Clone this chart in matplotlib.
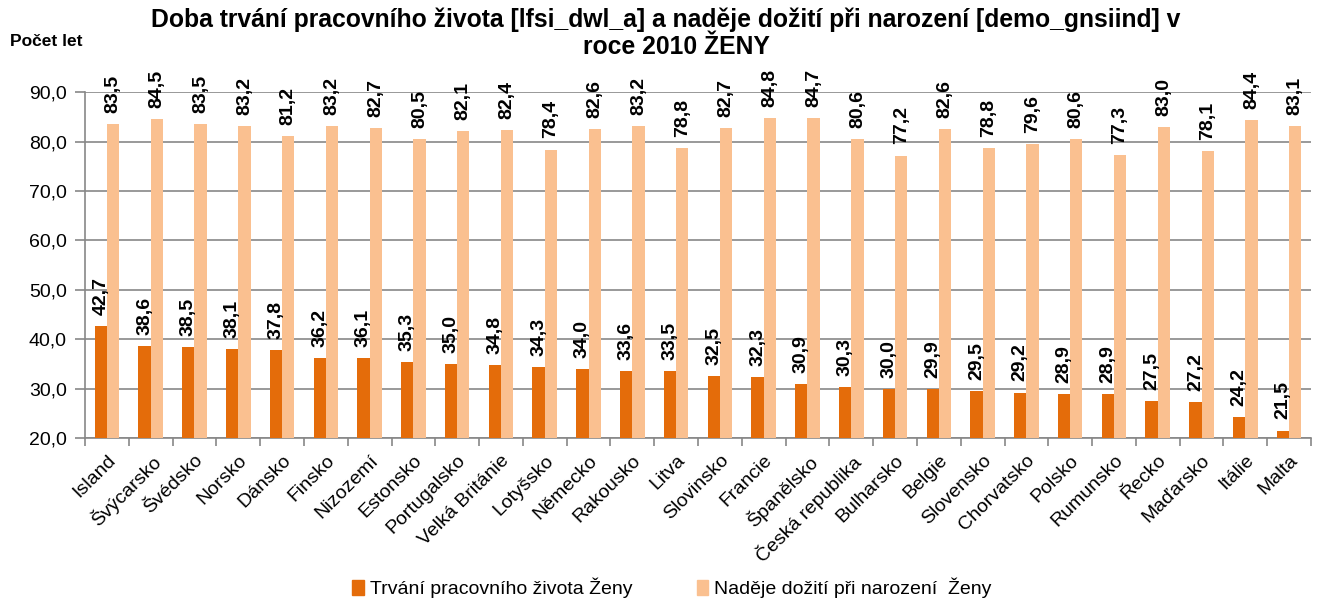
import matplotlib
matplotlib.use("Agg")
import matplotlib.pyplot as plt
import numpy as np
from matplotlib.patches import Patch

plt.rcParams['font.family'] = ['Liberation Sans', 'DejaVu Sans']

categories = ["Island", "Švýcarsko", "Švédsko", "Norsko", "Dánsko", "Finsko", "Nizozemí",
              "Estonsko", "Portugalsko", "Velká Británie", "Lotyšsko", "Německo", "Rakousko",
              "Litva", "Slovinsko", "Francie", "Španělsko", "Česká republika", "Bulharsko",
              "Belgie", "Slovensko", "Chorvatsko", "Polsko", "Rumunsko", "Řecko", "Maďarsko",
              "Itálie", "Malta"]
working_life = [42.7, 38.6, 38.5, 38.1, 37.8, 36.2, 36.1, 35.3, 35.0, 34.8, 34.3, 34.0, 33.6,
                33.5, 32.5, 32.3, 30.9, 30.3, 30.0, 29.9, 29.5, 29.2, 28.9, 28.9, 27.5, 27.2,
                24.2, 21.5]
life_expectancy = [83.5, 84.5, 83.5, 83.2, 81.2, 83.2, 82.7, 80.5, 82.1, 82.4, 78.4, 82.6, 83.2,
                   78.8, 82.7, 84.8, 84.7, 80.6, 77.2, 82.6, 78.8, 79.6, 80.6, 77.3, 83.0, 78.1,
                   84.4, 83.1]
series_names = ["Trvání pracovního života Ženy", "Naděje dožití při narození  Ženy"]
yticks = [20, 30, 40, 50, 60, 70, 80, 90]

dark = "#E46C0A"
light = "#FAC090"
grid_c = "#878787"

fig = plt.figure(figsize=(13.19, 6.02), dpi=100)
ax = fig.add_axes([85/1319, 1-438/602, (1311-85)/1319, (438-92.3)/602])

x = np.arange(len(categories))
w = 0.28
ax.bar(x - w/2, [v - 20 for v in working_life], w, bottom=20, color=dark, zorder=3)
ax.bar(x + w/2, [v - 20 for v in life_expectancy], w, bottom=20, color=light, zorder=3)

def fmt(v):
    return f"{v:.1f}".replace(".", ",")

for xs, vals in ((x - w/2, working_life), (x + w/2, life_expectancy)):
    for xi, v in zip(xs, vals):
        ax.annotate(fmt(v), (xi, v), xytext=(0, 8), textcoords="offset points",
                    rotation=90, ha="center", va="bottom", fontsize=14, fontweight="bold",
                    annotation_clip=False, zorder=5)

ax.set_xlim(-0.5, len(categories) - 0.5)
ax.set_ylim(20, 90)
ax.set_yticks(yticks)
ax.set_yticklabels([fmt(t) for t in yticks], fontsize=14)
ax.yaxis.grid(True, color=grid_c, linewidth=1.2, zorder=0)
ax.set_axisbelow(True)

ax.set_xticks(x)
ax.set_xticklabels(categories, rotation=45, ha="right", va="top", rotation_mode="anchor", fontsize=14)
ax.tick_params(axis="x", length=0, pad=10)
ax.set_xticks(np.arange(-0.5, len(categories), 1), minor=True)
ax.tick_params(axis="x", which="minor", length=6, color=grid_c, width=1.2)
ax.tick_params(axis="y", length=7, color=grid_c, width=1.2, pad=6)

for s in ["top", "right"]:
    ax.spines[s].set_visible(False)
for s in ["left", "bottom"]:
    ax.spines[s].set_color(grid_c)
    ax.spines[s].set_linewidth(1.2)

fig.text(666/1319, 1 - 20/602, "Doba trvání pracovního života [lfsi_dwl_a] a naděje dožití při narození [demo_gnsiind] v",
         ha="center", va="center", fontsize=17.8, fontweight="bold")
fig.text(676/1319, 1 - 47/602, "roce 2010 ŽENY", ha="center", va="center", fontsize=17.8, fontweight="bold")
fig.text(10/1319, 1 - 42/602, "Počet let", ha="left", va="center", fontsize=12.5, fontweight="bold")

handles = [Patch(color=dark), Patch(color=light)]
fig.legend(handles, series_names, loc="center", bbox_to_anchor=(672/1319, 1 - 588/602), ncol=2,
           frameon=False, fontsize=14, handlelength=0.6, handleheight=0.8, handletextpad=0.3,
           columnspacing=3.3)

fig.savefig("out.png", dpi=100)
